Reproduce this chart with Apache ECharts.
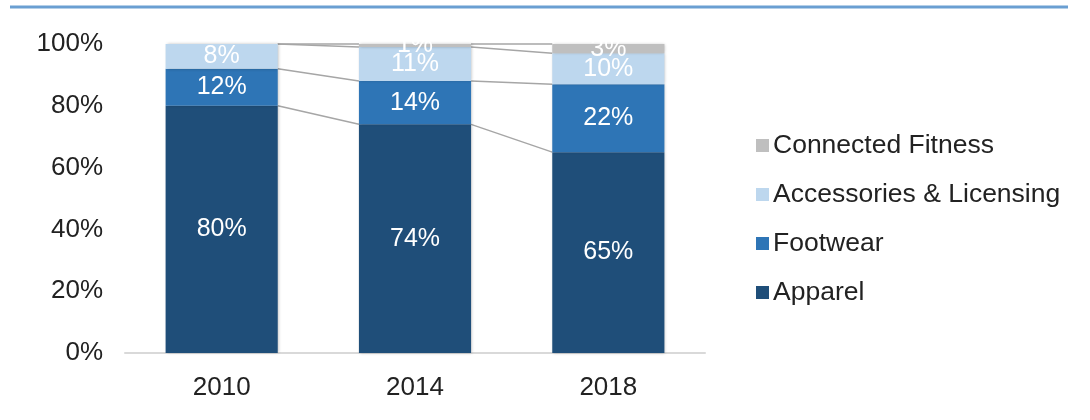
<!DOCTYPE html>
<html>
<head>
<meta charset="utf-8">
<script src="https://cdn.jsdelivr.net/npm/echarts@6/dist/echarts.min.js"></script>
<style>
html,body{margin:0;padding:0;background:#fff;}
#main{width:1090px;height:420px;}
</style>
</head>
<body>
<div id="main"></div>
<script>
const categories = ['2010', '2014', '2018'];
const apparel = [80, 74, 65];
const footwear = [12, 14, 22];
const accessories = [8, 11, 10];
const connectedFitness = [0, 1, 3];
const yTicks = [0, 20, 40, 60, 80, 100];

const seriesDefs = [
  { name: 'Apparel', data: apparel, color: '#1F4E79' },
  { name: 'Footwear', data: footwear, color: '#2E75B6' },
  { name: 'Accessories & Licensing', data: accessories, color: '#BDD7EE' },
  { name: 'Connected Fitness', data: connectedFitness, color: '#BFBFBF' }
];

const BAR_RATIO = 0.58;
const FONT = '"Liberation Sans", Arial, Helvetica, sans-serif';

// cumulative tops for series lines
const cum = [];
let running = categories.map(() => 0);
seriesDefs.forEach(s => {
  running = running.map((v, i) => v + s.data[i]);
  cum.push(running.slice());
});
const lineData = [];
cum.forEach(levels => {
  for (let i = 0; i < categories.length - 1; i++) {
    lineData.push([i, levels[i], levels[i + 1]]);
  }
});

const barSeries = seriesDefs.map(s => ({
  name: s.name,
  type: 'bar',
  stack: 'total',
  barWidth: (BAR_RATIO * 100) + '%',
  data: s.data,
  itemStyle: { color: s.color, shadowBlur: 3, shadowColor: 'rgba(0,0,0,0.25)', shadowOffsetX: 1, shadowOffsetY: 0 },
  label: {
    show: true,
    position: 'inside',
    color: '#ffffff',
    fontFamily: FONT,
    fontSize: 25,
    formatter: p => (p.value > 0 ? p.value + '%' : '')
  },
  z: 2
}));

const chart = echarts.init(document.getElementById('main'), null, { renderer: 'canvas' });
chart.setOption({
  animation: false,
  backgroundColor: '#ffffff',
  graphic: [{
    type: 'line',
    shape: { x1: 10, y1: 7, x2: 1068, y2: 7 },
    style: { stroke: '#6A9FD2', lineWidth: 3 }
  }],
  grid: { left: 125, right: 385, top: 44, bottom: 67 },
  legend: {
    orient: 'vertical',
    left: 751,
    top: 127,
    itemWidth: 13,
    itemHeight: 13,
    itemGap: 22,
    icon: 'rect',
    data: ['Connected Fitness', 'Accessories & Licensing', 'Footwear', 'Apparel'],
    textStyle: { fontFamily: FONT, fontSize: 26.5, color: '#222222', padding: [0, 0, 0, -1] }
  },
  xAxis: {
    type: 'category',
    data: categories,
    axisTick: { show: false },
    axisLine: { lineStyle: { color: '#D9D9D9', width: 2 } },
    axisLabel: { fontFamily: FONT, fontSize: 26, color: '#222222', margin: 22 }
  },
  yAxis: {
    type: 'value',
    min: 0,
    max: 100,
    interval: 20,
    axisLine: { show: false },
    axisTick: { show: false },
    splitLine: { show: false },
    axisLabel: {
      fontFamily: FONT, fontSize: 26, color: '#222222', margin: 22,
      formatter: v => (yTicks.indexOf(v) >= 0 ? v + '%' : '')
    }
  },
  series: barSeries.concat([{
    type: 'custom',
    name: 'seriesLines',
    data: lineData,
    silent: true,
    z: 1,
    renderItem: (params, api) => {
      const i = api.value(0);
      const p1 = api.coord([i, api.value(1)]);
      const p2 = api.coord([i + 1, api.value(2)]);
      const band = api.size([1, 0])[0];
      const half = band * BAR_RATIO / 2;
      return {
        type: 'line',
        shape: { x1: p1[0] + half, y1: p1[1], x2: p2[0] - half, y2: p2[1] },
        style: { stroke: '#A6A6A6', lineWidth: 1.5 }
      };
    },
    encode: { x: 0, y: 1 }
  }])
});
</script>
</body>
</html>
